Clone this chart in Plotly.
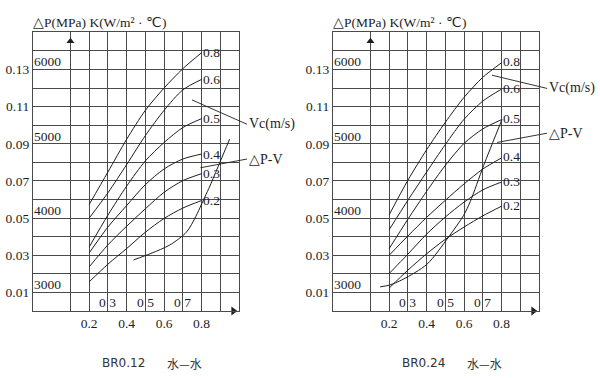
import plotly.graph_objects as go

# ---------------- data ----------------
vh = [0.2, 0.3, 0.4, 0.5, 0.6, 0.7, 0.8]
vc_names = ["0.8", "0.6", "0.5", "0.4", "0.3", "0.2"]

# BR0.12  水-水 : K (W/m2·℃) vs Vh, one list per Vc
k012_vc08 = [4183, 4620, 5060, 5450, 5750, 6010, 6225]
k012_vc06 = [4000, 4340, 4720, 5110, 5450, 5725, 5866]
k012_vc05 = [3611, 4040, 4430, 4770, 5017, 5218, 5338]
k012_vc04 = [3531, 3880, 4169, 4450, 4661, 4795, 4862]
k012_vc03 = [3343, 3640, 3890, 4125, 4347, 4504, 4598]
k012_vc02 = [3142, 3380, 3590, 3810, 3995, 4135, 4236]
# BR0.12 ΔP-V curve
dp012_vh = [0.437, 0.53, 0.63, 0.72, 0.77, 0.80, 0.85, 0.90, 0.95]
dp012 = [0.0275, 0.031, 0.0355, 0.0425, 0.051, 0.0575, 0.0685, 0.0805, 0.0925]

# BR0.24  水-水
k024_vc08 = [4045, 4510, 4920, 5290, 5625, 5895, 6090]
k024_vc06 = [3844, 4240, 4620, 4990, 5330, 5575, 5735]
k024_vc05 = [3590, 3985, 4360, 4710, 5005, 5200, 5325]
k024_vc04 = [3500, 3760, 4010, 4240, 4460, 4660, 4810]
k024_vc03 = [3255, 3515, 3785, 4015, 4215, 4380, 4485]
k024_vc02 = [3058, 3300, 3520, 3715, 3880, 4030, 4160]
# BR0.24 ΔP-V curve
dp024_vh = [0.152, 0.2, 0.275, 0.402, 0.517, 0.597, 0.633, 0.704, 0.803]
dp024 = [0.0130, 0.0139, 0.0171, 0.0252, 0.0398, 0.0514, 0.0589, 0.0782, 0.1032]

# axes / tick labels
vh_grid = [0.1, 0.2, 0.3, 0.4, 0.5, 0.6, 0.7, 0.8, 0.9, 1.0]
vh_labels = [0.2, 0.4, 0.6, 0.8]
vh_inner_labels = [0.3, 0.5, 0.7]
dp_grid = [0.0, 0.01, 0.02, 0.03, 0.04, 0.05, 0.06, 0.07, 0.08, 0.09,
           0.10, 0.11, 0.12, 0.13, 0.14, 0.15]
dp_labels = [0.01, 0.03, 0.05, 0.07, 0.09, 0.11, 0.13]
k_labels = [3000, 4000, 5000, 6000]
titles = [("BR0.12", "水—水"), ("BR0.24", "水—水")]

panels = [
    dict(k=[k012_vc08, k012_vc06, k012_vc05, k012_vc04, k012_vc03, k012_vc02],
         dpx=dp012_vh, dpy=dp012,
         vc_lead=(0.749, 0.1136, 1.043, 0.1005),
         dp_lead=(0.794, 0.0771, 1.043, 0.0818),
         lab_shift=0),
    dict(k=[k024_vc08, k024_vc06, k024_vc05, k024_vc04, k024_vc03, k024_vc02],
         dpx=dp024_vh, dpy=dp024,
         vc_lead=(0.749, 0.1269, 1.043, 0.1198),
         dp_lead=(0.776, 0.0907, 1.043, 0.0957),
         lab_shift=1),
]

# ---------------- layout constants ----------------
W, H = 600, 378
SERIF = "Liberation Serif, Times New Roman, serif"
INK = "#1e1e1e"
GRID = "#4a4a4a"
FS = 13.5
xdomains = [[33 / W, 239 / W], [333 / W, 539 / W]]
ydomain = [(H - 311) / H, (H - 32.3) / H]
X_RANGE = [-0.1, 1.0]
DP_RANGE = [0.0, 0.15]
K_RANGE = [2750, 6500]

fig = go.Figure()
annotations = []

dp_text = [("%.2f" % v) if any(abs(v - t) < 1e-9 for t in dp_labels) else "" for v in dp_grid]
vh_text = [("%.1f" % v) if any(abs(v - t) < 1e-9 for t in vh_labels) else "" for v in vh_grid]

for i, p in enumerate(panels):
    xa = "x" if i == 0 else "x2"
    ya = "y" if i == 0 else "y3"
    yk = "y2" if i == 0 else "y4"
    xkey = "xaxis" if i == 0 else "xaxis2"
    ykey = "yaxis" if i == 0 else "yaxis3"
    ykkey = "yaxis2" if i == 0 else "yaxis4"
    d0, d1 = xdomains[i]

    axis_common = dict(showgrid=True, gridcolor=GRID, gridwidth=1.3,
                       showline=True, linecolor=GRID, linewidth=1.3, mirror=True,
                       zeroline=False, ticks="",
                       tickfont=dict(family=SERIF, size=FS, color=INK))
    fig.update_layout(**{
        xkey: dict(domain=xdomains[i], range=X_RANGE, anchor=ya,
                   tickmode="array", tickvals=vh_grid, ticktext=vh_text, **axis_common),
        ykey: dict(domain=ydomain, range=DP_RANGE, anchor=xa,
                   tickmode="array", tickvals=dp_grid, ticktext=dp_text, **axis_common),
        ykkey: dict(range=K_RANGE, overlaying=ya, anchor=xa, visible=False),
    })

    # Vc curves (K on overlay axis)
    for name, kvals in zip(vc_names, p["k"]):
        fig.add_trace(go.Scatter(x=vh, y=kvals, xaxis=xa, yaxis=yk, mode="lines",
                                 line=dict(color=INK, width=1, shape="spline", smoothing=0.8),
                                 showlegend=False, hoverinfo="skip"))
        annotations.append(dict(x=vh[-1], y=kvals[-1], xref=xa, yref=yk, text=name,
                                showarrow=False, xanchor="left", yanchor="middle",
                                yshift=p["lab_shift"], xshift=-1,
                                font=dict(family=SERIF, size=FS, color=INK)))
    # ΔP-V curve
    fig.add_trace(go.Scatter(x=p["dpx"], y=p["dpy"], xaxis=xa, yaxis=ya, mode="lines",
                             line=dict(color=INK, width=1, shape="spline", smoothing=0.8),
                             showlegend=False, hoverinfo="skip"))

    # axis arrow heads (on the 0.1 grid line and on the bottom border)
    fig.add_trace(go.Scatter(x=[0.1], y=[0.1452], xaxis=xa, yaxis=ya, mode="markers",
                             marker=dict(symbol="triangle-up", size=7, color=INK),
                             cliponaxis=False, showlegend=False, hoverinfo="skip"))
    fig.add_trace(go.Scatter(x=[0.97], y=[0.0], xaxis=xa, yaxis=ya, mode="markers",
                             marker=dict(symbol="triangle-right", size=8, color=INK),
                             cliponaxis=False, showlegend=False, hoverinfo="skip"))

    # K labels inside the plot
    for kv in k_labels:
        annotations.append(dict(x=-0.025, y=kv, xref=xa, yref=yk, text=str(kv),
                                showarrow=False, xanchor="center", yanchor="middle",
                                yshift=7.7, font=dict(family=SERIF, size=FS, color=INK)))
    # inner Vh labels on the bottom row (dot hidden by grid line)
    for v in vh_inner_labels:
        annotations.append(dict(x=v, y=0.0045, xref=xa, yref=ya,
                                text=("%.1f" % v).replace(".", " "),
                                showarrow=False, xanchor="center", yanchor="middle",
                                font=dict(family=SERIF, size=FS, color=INK)))
    # leaders
    hx, hy, tx, ty = p["vc_lead"]
    annotations.append(dict(x=hx, y=hy, ax=tx, ay=ty, xref=xa, yref=ya, axref=xa, ayref=ya,
                            text="Vc(m/s)", showarrow=True, arrowhead=0, arrowwidth=0.9,
                            arrowcolor=INK, xanchor="left", yanchor="middle",
                            standoff=0, startstandoff=0,
                            font=dict(family=SERIF, size=14, color=INK)))
    hx, hy, tx, ty = p["dp_lead"]
    annotations.append(dict(x=hx, y=hy, ax=tx, ay=ty, xref=xa, yref=ya, axref=xa, ayref=ya,
                            text="△P-V", showarrow=True, arrowhead=0, arrowwidth=0.9,
                            arrowcolor=INK, xanchor="left", yanchor="middle",
                            standoff=0, startstandoff=0,
                            font=dict(family=SERIF, size=14, color=INK)))
    # axis titles
    annotations.append(dict(x=d0, y=(H - 22.3) / H, xref="paper", yref="paper",
                            text="△P(MPa) K(W/m² · ℃)", showarrow=False,
                            xanchor="left", yanchor="middle", xshift=-2,
                            font=dict(family=SERIF, size=13.5, color=INK)))
    annotations.append(dict(x=0.89, y=-0.008, xref=xa, yref=ya,
                            text="V<sub>h</sub>(m/s)", showarrow=False,
                            xanchor="left", yanchor="middle",
                            font=dict(family=SERIF, size=14, color=INK)))
    # panel captions
    annotations.append(dict(x=d0 + 0.439 * (d1 - d0), y=(H - 363) / H, xref="paper",
                            yref="paper", text=titles[i][0], showarrow=False,
                            xanchor="center", yanchor="middle",
                            font=dict(family="DejaVu Sans", size=12, color="#333")))
    annotations.append(dict(x=d0 + 0.735 * (d1 - d0), y=(H - 363) / H, xref="paper",
                            yref="paper", text=titles[i][1], showarrow=False,
                            xanchor="center", yanchor="middle",
                            font=dict(family="Noto Sans CJK SC", size=12, color="#333")))

fig.update_layout(width=W, height=H, margin=dict(l=0, r=0, t=0, b=0),
                  paper_bgcolor="white", plot_bgcolor="white",
                  showlegend=False, annotations=annotations)

fig.write_html("out.html", config={"displayModeBar": False},
               post_script="document.body.style.margin='0px';document.body.style.padding='0px';")
